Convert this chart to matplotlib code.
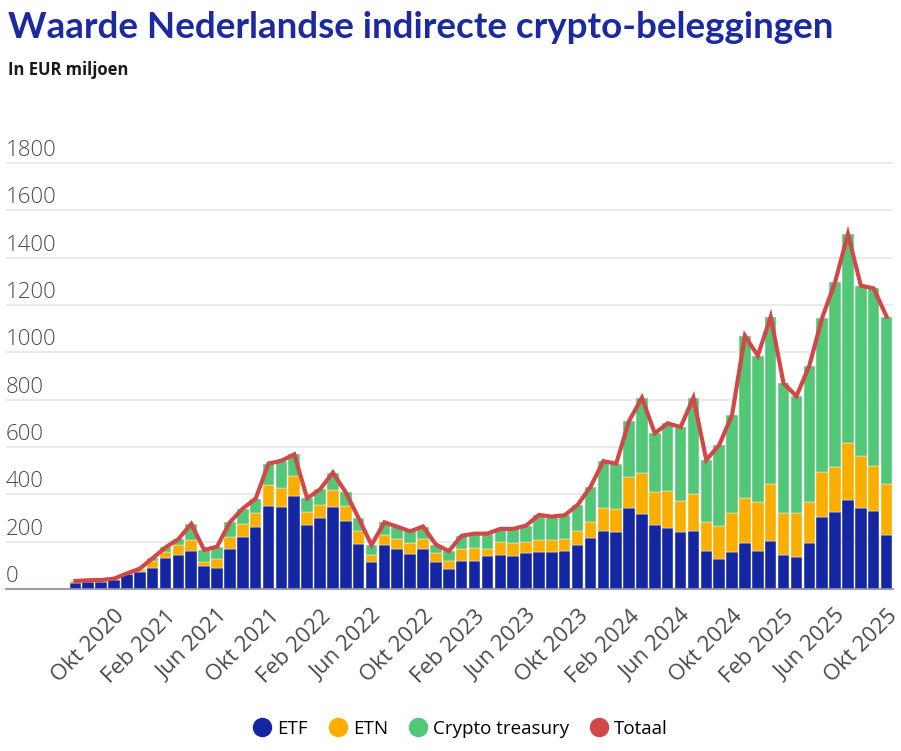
import numpy as np
import matplotlib
matplotlib.use("Agg")
import matplotlib.pyplot as plt
from matplotlib.lines import Line2D
from matplotlib import transforms

# maanden jul 2020 t/m okt 2025
maand_namen = ["Jan", "Feb", "Mrt", "Apr", "Mei", "Jun", "Jul", "Aug", "Sep", "Okt", "Nov", "Dec"]
start_jaar, start_maand = 2020, 7
n_maanden = 64

etf = [27, 30, 31, 38, 62, 73, 90, 132, 144, 162, 97, 90, 168, 221, 263, 352,
       348, 394, 269, 300, 348, 289, 191, 114, 186, 168, 149, 168, 115, 86, 120, 120,
       139, 144, 139, 151, 158, 158, 162, 188, 217, 246, 239, 344, 317, 270, 259, 239,
       246, 162, 127, 158, 193, 162, 204, 144, 137, 193, 306, 324, 376, 341, 330, 228]
etn = [5, 5, 5, 4, 2, 7, 28, 26, 41, 45, 18, 38, 50, 55, 60, 86,
       77, 85, 55, 54, 70, 62, 55, 30, 42, 42, 44, 42, 36, 34, 49, 55,
       30, 55, 54, 49, 50, 50, 48, 59, 65, 98, 98, 129, 173, 138, 155, 133,
       155, 120, 138, 162, 190, 204, 240, 176, 183, 173, 187, 190, 240, 222, 191, 216]
treasury = [2, 2, 2, 2, 2, 6, 12, 18, 26, 68, 50, 51, 64, 64, 59, 92,
            117, 90, 59, 67, 74, 57, 53, 42, 54, 53, 51, 54, 37, 40, 56, 59,
            65, 55, 61, 68, 105, 98, 102, 108, 149, 196, 193, 237, 318, 250, 286, 312,
            407, 263, 343, 415, 687, 620, 706, 549, 495, 577, 653, 782, 884, 719, 749, 707]
totaal = [34, 37, 38, 44, 66, 86, 130, 176, 211, 275, 165, 179, 282, 340, 382, 530,
          542, 569, 383, 421, 492, 408, 299, 186, 282, 263, 244, 264, 188, 160, 225, 234,
          234, 254, 254, 268, 313, 306, 312, 355, 431, 540, 530, 710, 808, 658, 700, 684,
          808, 545, 608, 735, 1070, 986, 1150, 869, 815, 943, 1146, 1296, 1500, 1282, 1270, 1151]

y_ticks = [0, 200, 400, 600, 800, 1000, 1200, 1400, 1600, 1800]

# kleuren
BLAUW = "#1526a3"
ORANJE = "#f9ae00"
GROEN = "#52c777"
ROOD = "#d14848"
TITEL = "#1b2aa0"

font = ["Open Sans", "DejaVu Sans"]
plt.rcParams["font.family"] = font

labels = []
for i in range(n_maanden):
    m = (start_maand - 1 + i) % 12
    j = start_jaar + (start_maand - 1 + i) // 12
    labels.append(f"{maand_namen[m]} {j}")

x = np.arange(n_maanden)
etf = np.array(etf)
etn = np.array(etn)
treasury = np.array(treasury)

fig = plt.figure(figsize=(9.01, 7.51), dpi=100)
ax = fig.add_axes([6 / 901, 0.2157, (893 - 6) / 901, 0.5988])

bw = 0.9
ax.bar(x, etf, width=bw, color=BLAUW, edgecolor="white", linewidth=0.3, zorder=2)
ax.bar(x, etn, width=bw, bottom=etf, color=ORANJE, edgecolor="white", linewidth=0.3, zorder=2)
ax.bar(x, treasury, width=bw, bottom=etf + etn, color=GROEN, edgecolor="white", linewidth=0.3, zorder=2)
ax.plot(x, totaal, color=ROOD, linewidth=3.0, solid_joinstyle="miter", zorder=3)

ax.set_xlim(-5.39, 63.5)
ax.set_ylim(0, 1900)

for s in ["top", "right", "left"]:
    ax.spines[s].set_visible(False)
ax.spines["bottom"].set_color("#8e93a6")
ax.spines["bottom"].set_linewidth(1.3)
ax.spines["bottom"].set_zorder(4)

ax.set_yticks(y_ticks)
ax.yaxis.grid(True, color="#e6e6e6", linewidth=1.2, zorder=0)
ax.tick_params(axis="y", left=False, labelleft=False)

# y-labels boven de gridlijnen
trans = transforms.blended_transform_factory(ax.transAxes, ax.transData)
offset = transforms.ScaledTranslation(0, 2 / 100, fig.dpi_scale_trans)
for t in y_ticks:
    ax.text(0.0, t, f"{t}", transform=trans + offset, ha="left", va="bottom",
            fontsize=16, color="#4a4a4a", fontweight="light")

# x-labels elke 4 maanden vanaf okt 2020
tick_pos = x[3::4]
ax.set_xticks(tick_pos)
ax.set_xticklabels([labels[i] for i in tick_pos], rotation=45, ha="right",
                   rotation_mode="anchor", fontsize=16, color="#4a4a4a")
ax.tick_params(axis="x", length=0, pad=12)

fig.text(8 / 901, 1 - 28 / 751, "Waarde Nederlandse indirecte crypto-beleggingen",
         fontsize=26.5, fontweight="bold", color=TITEL, va="center", ha="left",
         family=["Lato", "DejaVu Sans"])
fig.text(8 / 901, 1 - 70 / 751, "In EUR miljoen", fontsize=12, fontweight="bold",
         color="#1a1a1a", va="center", ha="left")

handles = [
    Line2D([], [], marker="o", linestyle="", markersize=13, color=BLAUW),
    Line2D([], [], marker="o", linestyle="", markersize=13, color=ORANJE),
    Line2D([], [], marker="o", linestyle="", markersize=13, color=GROEN),
    Line2D([], [], marker="o", linestyle="", markersize=13, color=ROOD),
]
fig.legend(handles, ["ETF", "ETN", "Crypto treasury", "Totaal"], loc="center",
           bbox_to_anchor=(0.51, 1 - 729 / 751), ncol=4, frameon=False,
           fontsize=13.5, handletextpad=0.2, columnspacing=1.0, handlelength=1.2)

fig.savefig("out.png", dpi=100)
